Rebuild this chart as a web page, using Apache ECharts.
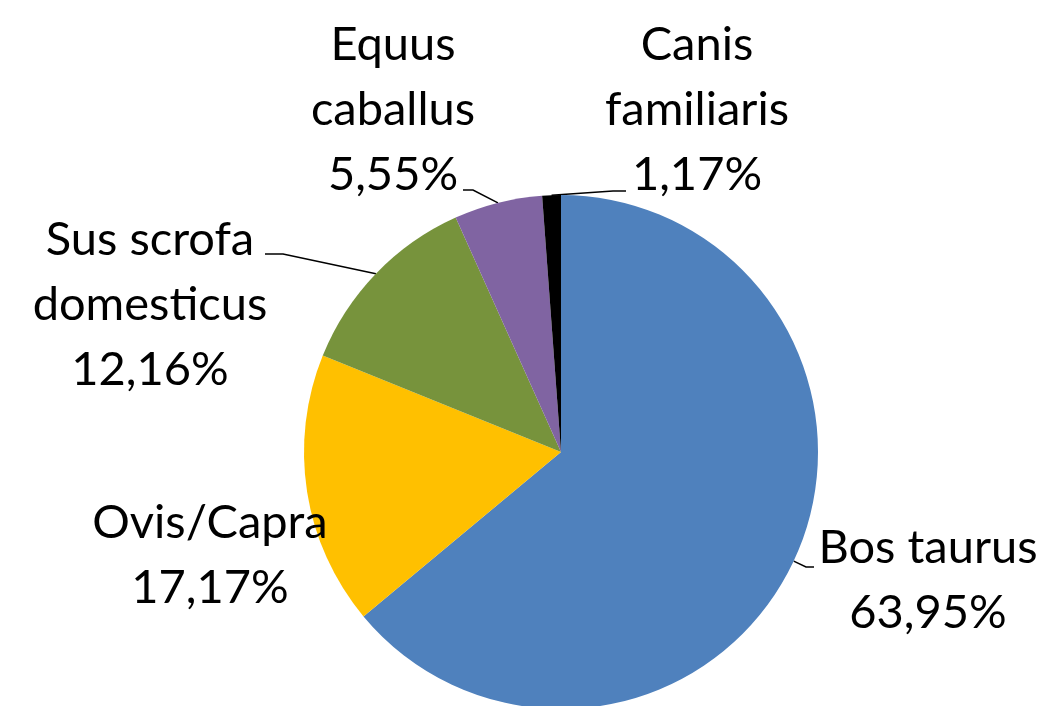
<!DOCTYPE html>
<html>
<head>
<meta charset="utf-8">
<script src="https://cdn.jsdelivr.net/npm/echarts@6/dist/echarts.min.js"></script>
<style>
html,body{margin:0;padding:0;background:#fff;}
#chart{width:1045px;height:706px;}
</style>
</head>
<body>
<div id="chart"></div>
<script>
var categories = ['Bos taurus', 'Ovis/Capra', 'Sus scrofa\ndomesticus', 'Equus\ncaballus', 'Canis\nfamiliaris'];
var values = [63.95, 17.17, 12.16, 5.55, 1.17];
var colors = ['#4F81BD', '#FFC000', '#77933C', '#8064A2', '#000000'];
// label layout: text block centres, and leader-line elbow / end per slice
var labelPos = [[928, 580], [210, 555], [150, 305], [393, 110], [697, 110]];
var leaderBends = [[[806, 567], [814, 567]], null, [[283, 254], [265, 254]], [[473, 190], [463, 190]], [[613, 191], [626, 191]]];

var chart = echarts.init(document.getElementById('chart'));
chart.setOption({
  animation: false,
  backgroundColor: '#ffffff',
  series: [{
    type: 'pie',
    center: [561, 452],
    radius: 257,
    startAngle: 90,
    clockwise: true,
    avoidLabelOverlap: false,
    data: categories.map(function (c, i) {
      var d = { name: c, value: values[i], itemStyle: { color: colors[i] } };
      if (!leaderBends[i]) d.labelLine = { show: false };
      return d;
    }),
    itemStyle: { borderWidth: 0 },
    label: {
      show: true,
      position: 'outside',
      fontFamily: 'Lato',
      fontSize: 47,
      lineHeight: 65,
      color: '#000',
      align: 'center',
      formatter: function (p) {
        return p.name + '\n' + p.value.toFixed(2).replace('.', ',') + '%';
      }
    },
    labelLine: {
      show: true,
      length: 10,
      length2: 10,
      lineStyle: { color: '#000', width: 1.5 }
    },
    labelLayout: function (params) {
      var i = params.dataIndex;
      var p = labelPos[i];
      var out = { x: p[0], y: p[1], align: 'center', verticalAlign: 'middle' };
      var b = leaderBends[i];
      if (b && params.labelLinePoints && params.labelLinePoints.length) {
        out.labelLinePoints = [params.labelLinePoints[0], b[0], b[1]];
      }
      return out;
    }
  }]
});
</script>
</body>
</html>
